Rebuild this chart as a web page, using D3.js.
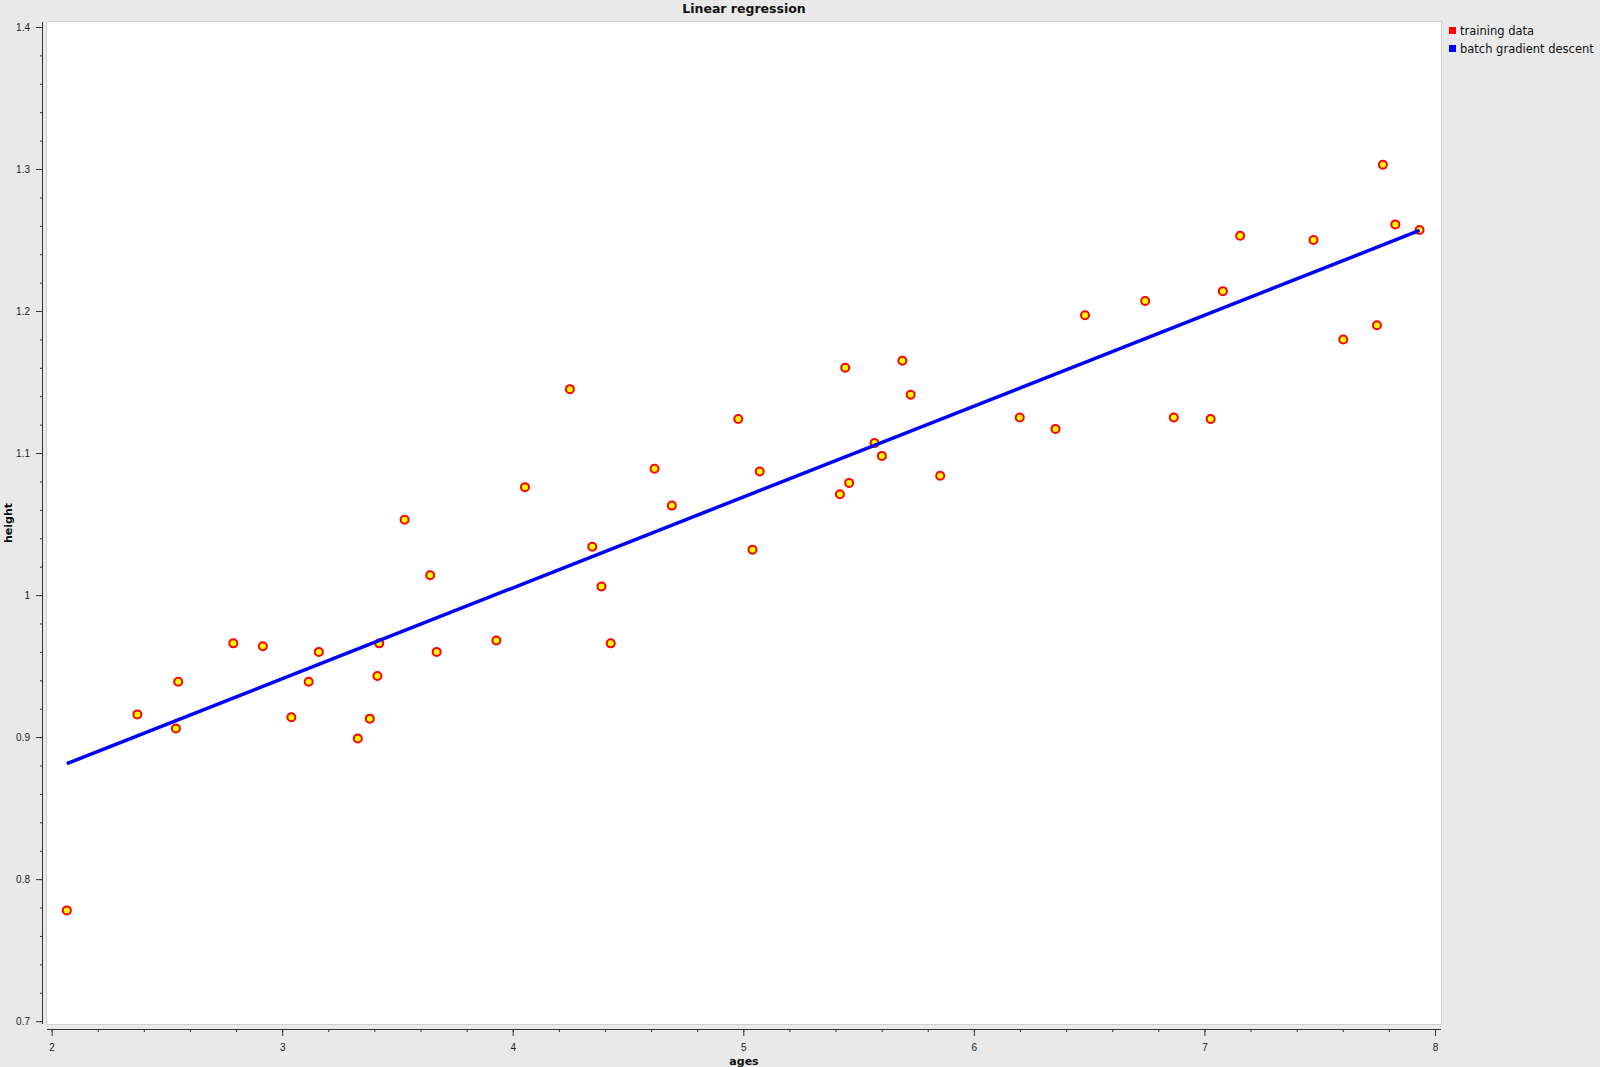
<!DOCTYPE html>
<html>
<head>
<meta charset="utf-8">
<script src="https://cdnjs.cloudflare.com/ajax/libs/d3/7.8.5/d3.min.js"></script>
<style>
  body { margin: 0; background: #e9e9e9; }
  svg { display: block; font-family: "DejaVu Sans", "Liberation Sans", sans-serif; }
  .tick text { font-size: 10px; fill: #222; }
  .tick line, .domain { stroke: #333; }
</style>
</head>
<body>
<div id="chart"></div>
<script>
// training data (ages vs height)
var ages = [2.066, 2.372, 2.539, 2.549, 2.788, 2.916, 3.040, 3.115, 3.159, 3.328,
            3.380, 3.413, 3.421, 3.531, 3.642, 3.670, 3.929, 4.053, 4.248, 4.345,
            4.385, 4.425, 4.615, 4.690, 4.978, 5.040, 5.071, 5.419, 5.442, 5.459,
            5.569, 5.601, 5.690, 5.726, 5.854, 6.199, 6.354, 6.482, 6.743, 6.867,
            7.027, 7.080, 7.155, 7.473, 7.602, 7.748, 7.774, 7.828, 7.933];
var heights = [0.778, 0.916, 0.906, 0.939, 0.966, 0.964, 0.914, 0.939, 0.960, 0.899,
               0.913, 0.943, 0.966, 1.053, 1.014, 0.960, 0.968, 1.076, 1.145, 1.034,
               1.006, 0.966, 1.089, 1.063, 1.124, 1.032, 1.087, 1.071, 1.160, 1.079,
               1.107, 1.098, 1.165, 1.141, 1.084, 1.125, 1.117, 1.197, 1.207, 1.125,
               1.124, 1.214, 1.253, 1.250, 1.180, 1.190, 1.303, 1.261, 1.257];

// batch gradient descent fit, drawn between first and last age
var fitX = [2.066, 7.933];
var fitY = [0.8813, 1.2567];

var xTicks = [2, 3, 4, 5, 6, 7, 8];
var yTicks = [0.7, 0.8, 0.9, 1, 1.1, 1.2, 1.3, 1.4];
var legendNames = ["training data", "batch gradient descent"];
var legendColors = ["#ff0000", "#0000ff"];

var width = 1600, height = 1067;
var plot = {left: 47, right: 1441, top: 22, bottom: 1024};

var x = d3.scaleLinear().domain([1.98, 8.026]).range([plot.left, plot.right]);
var y = d3.scaleLinear().domain([0.698, 1.4035]).range([plot.bottom, plot.top]);

var svg = d3.select("#chart").append("svg")
  .attr("width", width)
  .attr("height", height);

svg.append("rect")
  .attr("width", width).attr("height", height)
  .attr("fill", "#e9e9e9");

// plot background
svg.append("rect")
  .attr("x", plot.left - 0.5)
  .attr("y", plot.top - 0.5)
  .attr("width", plot.right - plot.left + 1)
  .attr("height", plot.bottom - plot.top + 1)
  .attr("fill", "#ffffff")
  .attr("stroke", "#d2d2d2");

// minor ticks
var xMinor = d3.range(2, 8.001, 0.2);
var yMinor = d3.range(0.7, 1.4001, 0.02);

var xAxis = svg.append("g")
  .attr("transform", "translate(0," + (plot.bottom + 5) + ")");
xAxis.call(d3.axisBottom(x).tickValues(xMinor).tickSize(3).tickFormat(""));
xAxis.select(".domain").attr("d", "M" + (plot.left) + ",0.5H" + plot.right);
xAxis.append("g").call(d3.axisBottom(x).tickValues(xTicks).tickSize(7).tickPadding(8)
    .tickFormat(d3.format("d")))
  .select(".domain").remove();

var yAxis = svg.append("g")
  .attr("transform", "translate(" + (plot.left - 4) + ",0)");
yAxis.call(d3.axisLeft(y).tickValues(yMinor).tickSize(3).tickFormat(""));
yAxis.select(".domain").attr("d", "M-0.5," + plot.top + "V" + plot.bottom);
yAxis.append("g").call(d3.axisLeft(y).tickValues(yTicks).tickSize(7).tickPadding(6)
    .tickFormat(function(d) { return d === 1 ? "1" : d3.format(".1f")(d); }))
  .select(".domain").remove();

// points
svg.append("g").selectAll("circle")
  .data(ages)
  .enter().append("circle")
    .attr("cx", function(d) { return x(d); })
    .attr("cy", function(d, i) { return y(heights[i]); })
    .attr("r", 4)
    .attr("fill", "#ffff00")
    .attr("stroke", "#ff0000")
    .attr("stroke-width", 2);

// regression line
var line = d3.line()
  .x(function(d) { return x(d); })
  .y(function(d, i) { return y(fitY[i]); });

svg.append("path")
  .datum(fitX)
  .attr("d", line)
  .attr("fill", "none")
  .attr("stroke", "#0000ff")
  .attr("stroke-width", 3.5);

// title and axis labels
svg.append("text")
  .attr("x", (plot.left + plot.right) / 2)
  .attr("y", 13)
  .attr("text-anchor", "middle")
  .attr("font-weight", "bold")
  .attr("font-size", "12.5px")
  .attr("fill", "#111")
  .text("Linear regression");

svg.append("text")
  .attr("x", (plot.left + plot.right) / 2)
  .attr("y", 1065)
  .attr("text-anchor", "middle")
  .attr("font-weight", "bold")
  .attr("font-size", "11px")
  .attr("fill", "#111")
  .text("ages");

svg.append("text")
  .attr("transform", "translate(12," + ((plot.top + plot.bottom) / 2) + ") rotate(-90)")
  .attr("text-anchor", "middle")
  .attr("font-weight", "bold")
  .attr("font-size", "11px")
  .attr("fill", "#111")
  .text("height");

// legend
var legend = svg.append("g").selectAll("g")
  .data(legendNames)
  .enter().append("g")
    .attr("transform", function(d, i) { return "translate(1449," + (27 + i * 18) + ")"; });

legend.append("rect")
  .attr("width", 7).attr("height", 7)
  .attr("fill", function(d, i) { return legendColors[i]; });

legend.append("text")
  .attr("x", 11).attr("y", 7.5)
  .attr("font-size", "11.5px")
  .attr("fill", "#111")
  .text(function(d) { return d; });
</script>
</body>
</html>
